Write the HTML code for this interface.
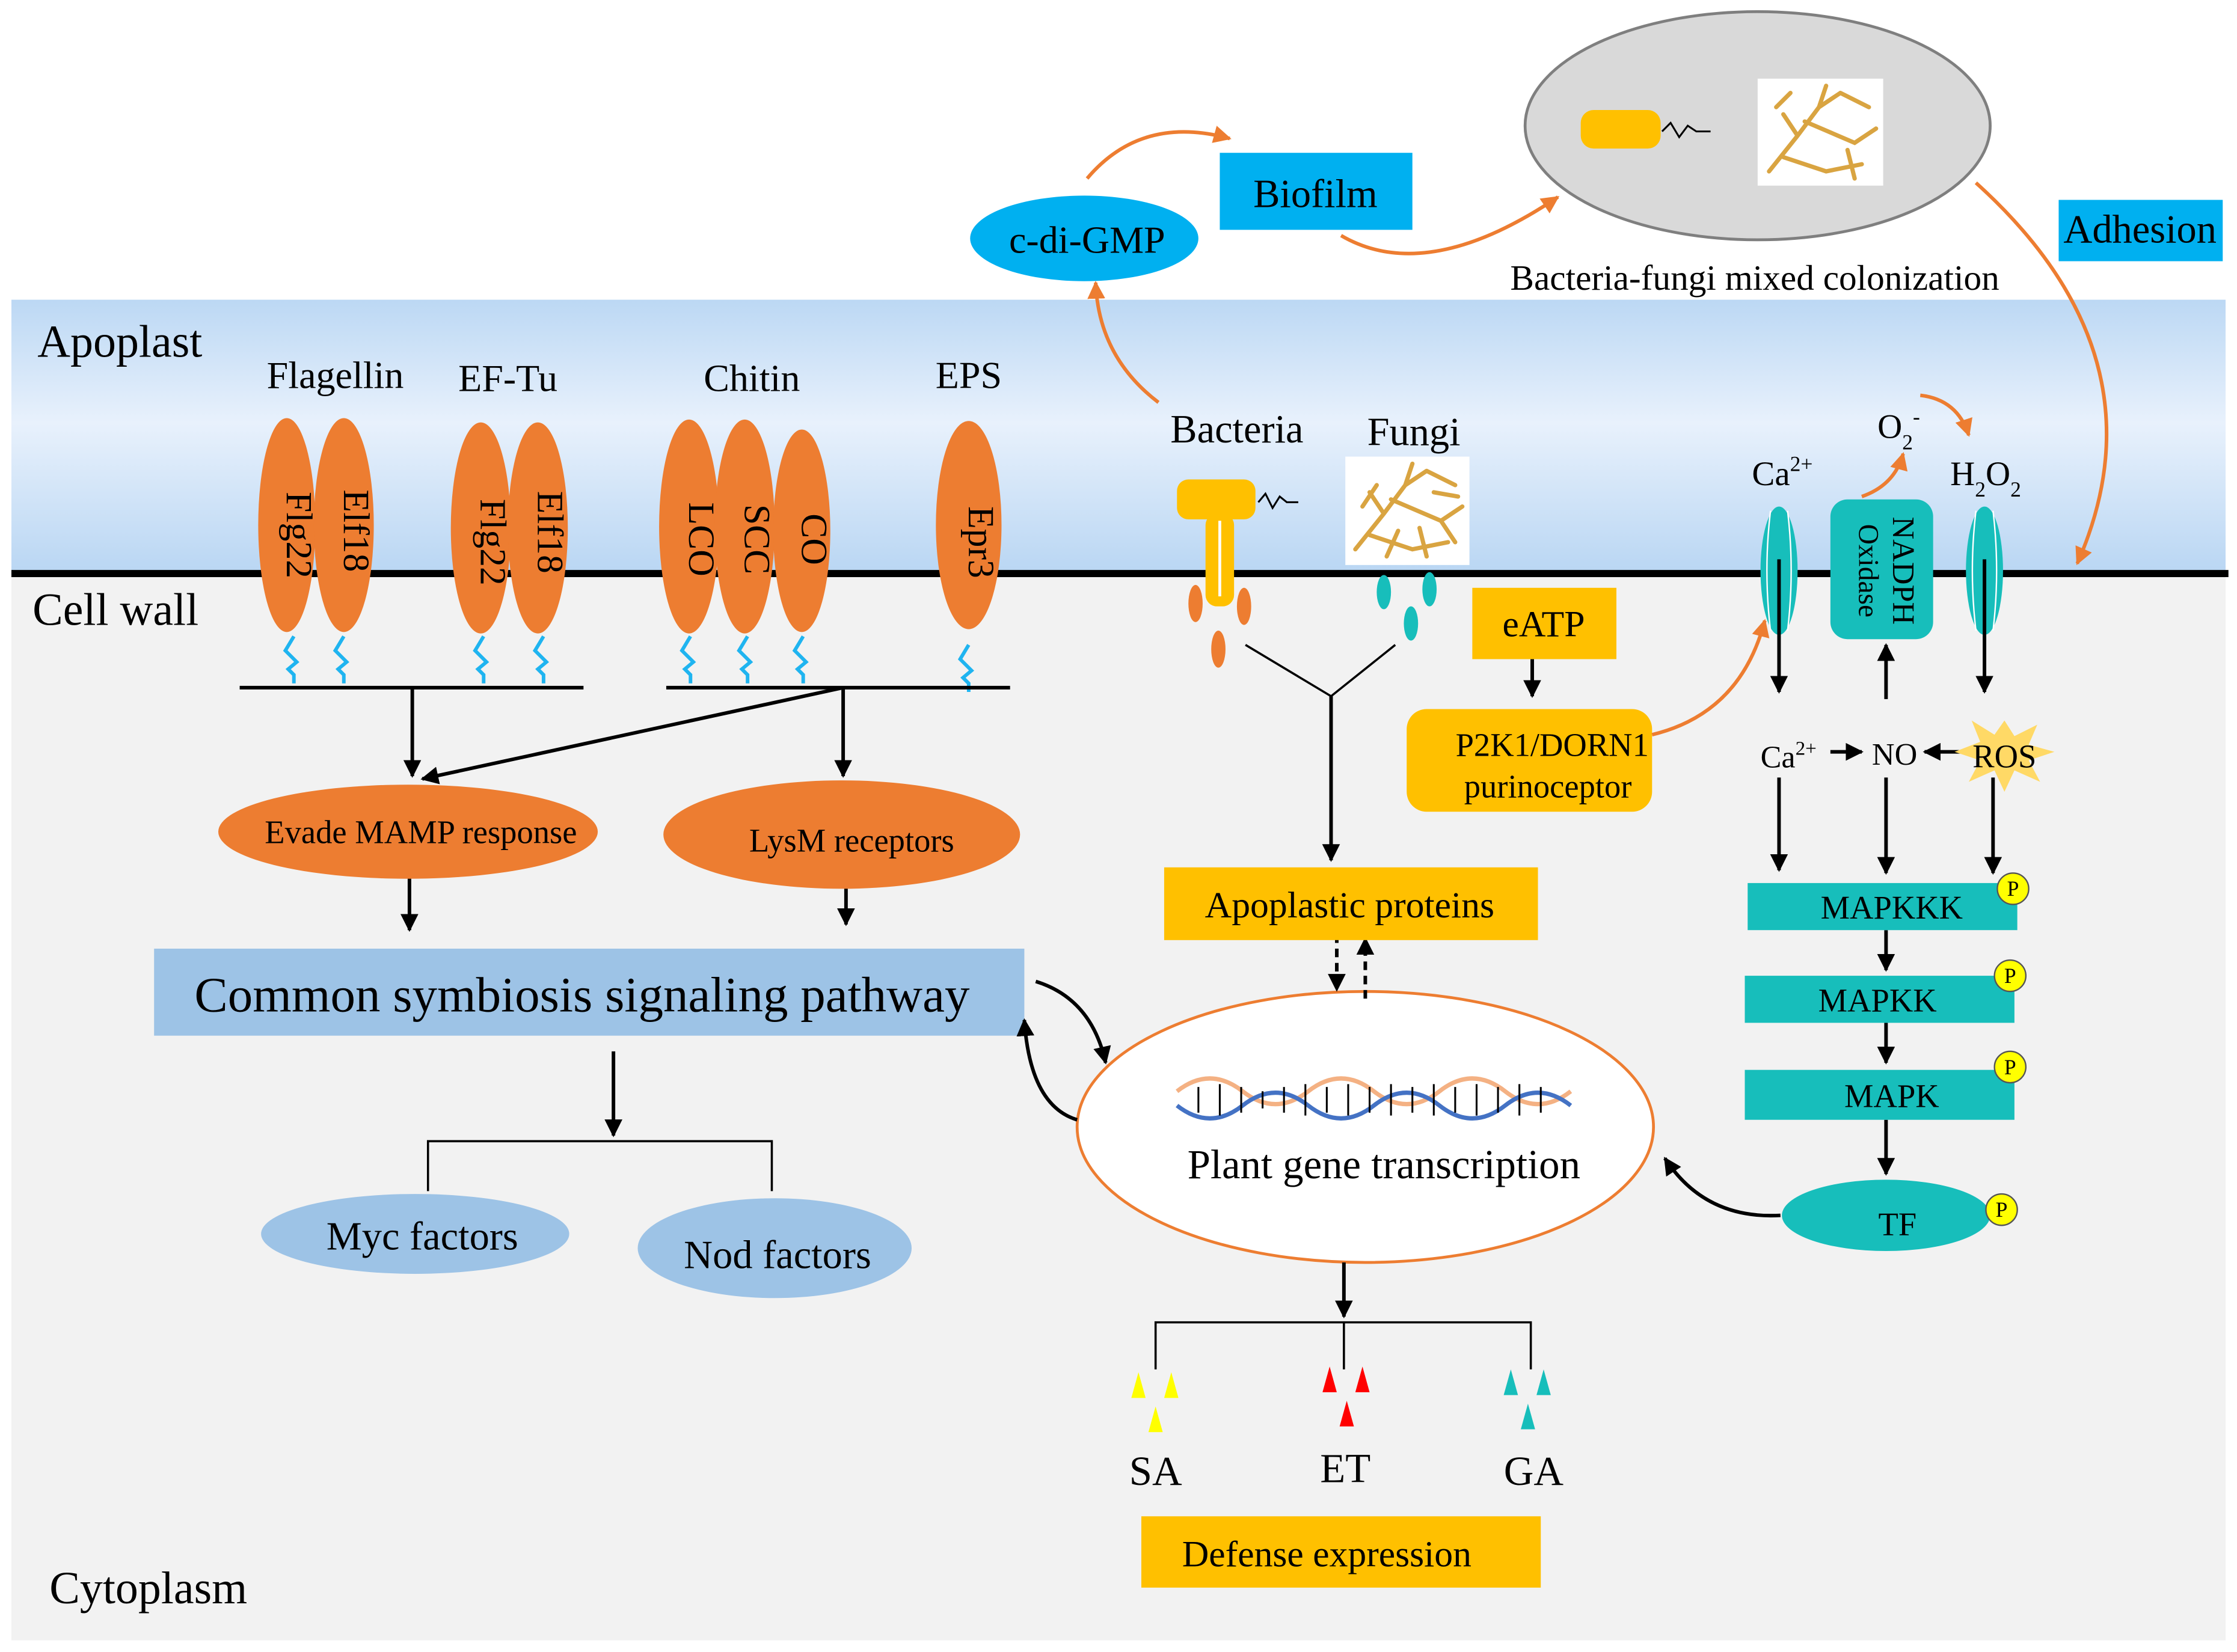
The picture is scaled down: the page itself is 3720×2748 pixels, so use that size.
<!DOCTYPE html>
<html><head><meta charset="utf-8"><style>html,body{margin:0;padding:0;background:#fff}svg{display:block}svg text{font-family:"Liberation Serif",serif !important}</style></head><body>
<svg width="3720" height="2748" viewBox="0 0 1568 1158" xmlns="http://www.w3.org/2000/svg" font-family="Liberation Serif, serif">
<defs>
<linearGradient id="ap" x1="0" y1="0" x2="0" y2="1"><stop offset="0" stop-color="#bcd8f4"/><stop offset="0.45" stop-color="#e8f1fc"/><stop offset="1" stop-color="#b9d6f3"/></linearGradient>
<marker id="a" viewBox="0 0 10 10" refX="9" refY="5" markerWidth="5" markerHeight="5" orient="auto-start-reverse"><path d="M0,0L10,5L0,10z" fill="#000"/></marker>
<marker id="o" viewBox="0 0 10 10" refX="9" refY="5" markerWidth="5" markerHeight="5" orient="auto-start-reverse"><path d="M0,0L10,5L0,10z" fill="#ed7d31"/></marker>
</defs>
<rect x="8" y="210" width="1552" height="192" fill="url(#ap)"/>
<rect x="8" y="402" width="1552" height="748" fill="#f2f2f2"/>
<line x1="8" y1="402" x2="1562" y2="402" stroke="#000" stroke-width="5"/>
<text x="84" y="250" font-size="32" text-anchor="middle">Apoplast</text>
<text x="81" y="438" font-size="32" text-anchor="middle">Cell wall</text>
<text x="104" y="1124" font-size="32" text-anchor="middle">Cytoplasm</text>
<g font-size="27" text-anchor="middle">
<text x="235" y="272">Flagellin</text><text x="356" y="274">EF-Tu</text><text x="527" y="274">Chitin</text><text x="679" y="272">EPS</text>
</g>
<g fill="#ed7d31">
<ellipse cx="201" cy="368" rx="20" ry="75"/><ellipse cx="241" cy="368" rx="21" ry="75"/>
<ellipse cx="337" cy="370" rx="21" ry="74"/><ellipse cx="377" cy="370" rx="21" ry="74"/>
<ellipse cx="483" cy="369" rx="21" ry="75"/><ellipse cx="522" cy="369" rx="21" ry="75"/><ellipse cx="562" cy="372" rx="20" ry="71"/>
<ellipse cx="679" cy="368" rx="23" ry="73"/>
</g>
<g font-size="26" text-anchor="middle">
<text transform="translate(201,375) rotate(90)">Flg22</text><text transform="translate(241,372) rotate(90)">Elf18</text>
<text transform="translate(337,380) rotate(90)">Flg22</text><text transform="translate(377,373) rotate(90)">Elf18</text>
<text transform="translate(483,378) rotate(90)">LCO</text><text transform="translate(522,378) rotate(90)">SCC</text><text transform="translate(562,378) rotate(90)">CO</text>
<text transform="translate(679,380) rotate(90)">Epr3</text>
</g>
<g stroke="#1fb4f0" stroke-width="2.5" fill="none">
<path id="sq" d="M206,446 l-6,10 l8,8 l-6,5 l4,4 v6"/>
<use href="#sq" x="35"/><use href="#sq" x="133"/><use href="#sq" x="175"/><use href="#sq" x="278"/><use href="#sq" x="318"/><use href="#sq" x="357"/><use href="#sq" x="473" y="6"/>
</g>
<g stroke="#000" stroke-width="2.5" fill="none">
<line x1="168" y1="482" x2="409" y2="482"/><line x1="467" y1="482" x2="708" y2="482"/>
<line x1="289" y1="482" x2="289" y2="544" marker-end="url(#a)"/>
<line x1="591" y1="482" x2="296" y2="546" marker-end="url(#a)"/>
<line x1="591" y1="482" x2="591" y2="544" marker-end="url(#a)"/>
<line x1="287" y1="612" x2="287" y2="652" marker-end="url(#a)"/>
<line x1="593" y1="612" x2="593" y2="648" marker-end="url(#a)"/>
<line x1="430" y1="737" x2="430" y2="796" marker-end="url(#a)"/>
<path d="M300,835 V800 H541 V835" stroke-width="1.5"/>
</g>
<ellipse cx="286" cy="583" rx="133" ry="33" fill="#ed7d31"/>
<ellipse cx="590" cy="585" rx="125" ry="38" fill="#ed7d31"/>
<text x="295" y="591" font-size="23" text-anchor="middle">Evade MAMP response</text>
<text x="597" y="597" font-size="23" text-anchor="middle">LysM receptors</text>
<rect x="108" y="665" width="610" height="61" fill="#9dc3e6"/>
<text x="408" y="709" font-size="35" text-anchor="middle">Common symbiosis signaling pathway</text>
<ellipse cx="291" cy="865" rx="108" ry="28" fill="#9dc3e6"/>
<ellipse cx="543" cy="875" rx="96" ry="35" fill="#9dc3e6"/>
<text x="296" y="876" font-size="28" text-anchor="middle">Myc factors</text>
<text x="545" y="889" font-size="28" text-anchor="middle">Nod factors</text>
<ellipse cx="957" cy="790" rx="202" ry="95" fill="#fff" stroke="#ed7d31" stroke-width="2"/>
<g fill="none" stroke-width="3">
<path d="M825,765 q23,-18 46,0 t46,0 t46,0 t46,0 t46,0 t46,0" stroke="#f4b183"/>
<path d="M825,775 q23,18 46,0 t46,0 t46,0 t46,0 t46,0 t46,0" stroke="#4472c4"/>
</g>
<g stroke="#000" stroke-width="1.3">
<path d="M840,762v18M855,760v22M870,762v18M885,765v12M900,762v18M915,760v22M930,762v18M945,760v22M960,762v18M975,760v22M990,762v18M1005,760v22M1020,762v18M1035,760v22M1050,762v18M1065,760v22M1080,762v18"/>
</g>
<text x="970" y="826" font-size="29" text-anchor="middle">Plant gene transcription</text>
<g stroke="#000" stroke-width="2.5" fill="none">
<path d="M726,688 Q765,700 775,745" marker-end="url(#a)"/>
<path d="M755,785 Q722,775 718,715" marker-end="url(#a)"/>
<line x1="937" y1="655" x2="937" y2="694" stroke-dasharray="6,4" marker-end="url(#a)"/>
<line x1="957" y1="700" x2="957" y2="658" stroke-dasharray="6,4" marker-end="url(#a)"/>
<path d="M873,452 L933,488 L978,452" stroke-width="1.5"/>
<line x1="933" y1="488" x2="933" y2="603" marker-end="url(#a)"/>
<line x1="1074" y1="462" x2="1074" y2="488" marker-end="url(#a)"/>
<path d="M1248,852 Q1195,855 1167,812" marker-end="url(#a)"/>
<line x1="942" y1="885" x2="942" y2="923" marker-end="url(#a)"/>
<path d="M810,960 V927 H1073 V960 M942,927 V960" stroke-width="1.5"/>
</g>
<rect x="816" y="608" width="262" height="51" fill="#ffc000"/>
<text x="946" y="643" font-size="26" text-anchor="middle">Apoplastic proteins</text>
<text x="867" y="310" font-size="28" text-anchor="middle">Bacteria</text>
<text x="991" y="312" font-size="28" text-anchor="middle">Fungi</text>
<rect x="825" y="336" width="55" height="28" rx="8" fill="#ffc000"/>
<rect x="845" y="360" width="20" height="65" rx="8" fill="#ffc000"/>
<line x1="855" y1="365" x2="855" y2="418" stroke="#fff" stroke-width="2"/>
<path d="M882,352 l5,-6 l5,10 l5,-8 l5,4 h8" fill="none" stroke="#000" stroke-width="1.3"/>
<g fill="#ed7d31"><ellipse cx="838" cy="423" rx="5" ry="13"/><ellipse cx="872" cy="425" rx="5" ry="13"/><ellipse cx="854" cy="455" rx="5" ry="13"/></g>
<rect x="943" y="320" width="87" height="76" fill="#fff"/>
<g stroke="#d9a441" stroke-width="3" fill="none" stroke-linecap="round">
<path d="M950,385 L970,360 L985,340 L1000,330 M970,360 L960,345 M985,340 L990,325 M975,350 L1010,365 L1025,355 M1000,330 L1020,340 M960,375 L990,385 L1015,380 M995,370 L1000,390 M1010,365 L1020,380 M955,355 L965,340 M1005,345 L1022,348 M980,372 L972,390"/>
</g>
<g fill="#17bebb"><ellipse cx="970" cy="415" rx="5" ry="12"/><ellipse cx="1002" cy="413" rx="5" ry="12"/><ellipse cx="989" cy="437" rx="5" ry="12"/></g>
<rect x="1032" y="412" width="101" height="50" fill="#ffc000"/>
<text x="1082" y="446" font-size="26" text-anchor="middle">eATP</text>
<rect x="986" y="497" width="172" height="72" rx="14" fill="#ffc000"/>
<text x="1088" y="530" font-size="23" text-anchor="middle">P2K1/DORN1</text>
<text x="1085" y="559" font-size="23" text-anchor="middle">purinoceptor</text>
<path d="M1158,515 Q1220,500 1237,435" fill="none" stroke="#ed7d31" stroke-width="2.5" marker-end="url(#o)"/>
<ellipse cx="1247" cy="400" rx="13" ry="45" fill="#17bebb"/>
<ellipse cx="1391" cy="400" rx="13" ry="45" fill="#17bebb"/>
<path d="M1241,358 Q1236,400 1241,442 M1253,358 Q1258,400 1253,442 M1385,358 Q1380,400 1385,442 M1397,358 Q1402,400 1397,442" stroke="#fff" stroke-width="1" fill="none"/>
<rect x="1283" y="350" width="72" height="98" rx="12" fill="#17bebb"/>
<text transform="translate(1327,400) rotate(90)" font-size="22" text-anchor="middle">NADPH</text>
<text transform="translate(1303,400) rotate(90)" font-size="20" text-anchor="middle">Oxidase</text>
<text x="1228" y="340" font-size="24">Ca<tspan font-size="15" dy="-10">2+</tspan></text>
<text x="1316" y="307" font-size="24">O<tspan font-size="15" dy="8">2</tspan><tspan font-size="15" dy="-18">-</tspan></text>
<text x="1367" y="340" font-size="24">H<tspan font-size="15" dy="8">2</tspan><tspan dy="-8">O</tspan><tspan font-size="15" dy="8">2</tspan></text>
<g fill="none" stroke="#ed7d31" stroke-width="2.5">
<path d="M1305,348 Q1328,340 1334,318" marker-end="url(#o)"/>
<path d="M1346,277 Q1372,280 1380,305" marker-end="url(#o)"/>
</g>
<g stroke="#000" stroke-width="2.5" fill="none">
<line x1="1247" y1="392" x2="1247" y2="485" marker-end="url(#a)"/>
<line x1="1322" y1="490" x2="1322" y2="452" marker-end="url(#a)"/>
<line x1="1391" y1="392" x2="1391" y2="485" marker-end="url(#a)"/>
<line x1="1283" y1="527" x2="1305" y2="527" marker-end="url(#a)"/>
<line x1="1375" y1="527" x2="1349" y2="527" marker-end="url(#a)"/>
<line x1="1247" y1="545" x2="1247" y2="610" marker-end="url(#a)"/>
<line x1="1322" y1="545" x2="1322" y2="612" marker-end="url(#a)"/>
<line x1="1397" y1="545" x2="1397" y2="612" marker-end="url(#a)"/>
<line x1="1322" y1="652" x2="1322" y2="680" marker-end="url(#a)"/>
<line x1="1322" y1="717" x2="1322" y2="745" marker-end="url(#a)"/>
<line x1="1322" y1="785" x2="1322" y2="823" marker-end="url(#a)"/>
</g>
<polygon points="1405,505 1412,516 1428,508 1422,522 1440,527 1422,533 1430,548 1412,540 1405,555 1398,540 1380,548 1388,533 1370,527 1388,520 1382,505 1398,515" fill="#ffd966"/>
<text x="1234" y="538" font-size="22">Ca<tspan font-size="14" dy="-9">2+</tspan></text>
<text x="1328" y="536" font-size="22" text-anchor="middle">NO</text>
<text x="1405" y="538" font-size="23" text-anchor="middle">ROS</text>
<g fill="#17bebb"><rect x="1225" y="619" width="189" height="33"/><rect x="1223" y="684" width="189" height="33"/><rect x="1223" y="750" width="189" height="35"/><ellipse cx="1322" cy="852" rx="73" ry="25"/></g>
<g font-size="23" text-anchor="middle"><text x="1326" y="644">MAPKKK</text><text x="1316" y="709">MAPKK</text><text x="1326" y="776">MAPK</text><text x="1330" y="866">TF</text></g>
<g fill="#ffff00" stroke="#555" stroke-width="1"><circle cx="1411" cy="623" r="11"/><circle cx="1409" cy="684" r="11"/><circle cx="1409" cy="748" r="11"/><circle cx="1403" cy="848" r="11"/></g>
<g font-size="15" text-anchor="middle"><text x="1411" y="628">P</text><text x="1409" y="689">P</text><text x="1409" y="753">P</text><text x="1403" y="853">P</text></g>
<g fill="#ffff00"><polygon points="798,962 803,980 793,980"/><polygon points="821,962 826,980 816,980"/><polygon points="810,986 815,1004 805,1004"/></g>
<g fill="#ff0000"><polygon points="932,958 937,976 927,976"/><polygon points="955,958 960,976 950,976"/><polygon points="944,982 949,1000 939,1000"/></g>
<g fill="#17bebb"><polygon points="1059,960 1064,978 1054,978"/><polygon points="1082,960 1087,978 1077,978"/><polygon points="1071,984 1076,1002 1066,1002"/></g>
<g font-size="29" text-anchor="middle"><text x="810" y="1041">SA</text><text x="943" y="1039">ET</text><text x="1075" y="1041">GA</text></g>
<rect x="800" y="1063" width="280" height="50" fill="#ffc000"/>
<text x="930" y="1098" font-size="26" text-anchor="middle">Defense expression</text>
<ellipse cx="760" cy="167" rx="80" ry="30" fill="#00b0f0"/>
<text x="762" y="177" font-size="27" text-anchor="middle">c-di-GMP</text>
<rect x="855" y="107" width="135" height="54" fill="#00b0f0"/>
<text x="922" y="145" font-size="28" text-anchor="middle">Biofilm</text>
<ellipse cx="1232" cy="88" rx="163" ry="80" fill="#d9d9d9" stroke="#7f7f7f" stroke-width="2"/>
<rect x="1108" y="77" width="56" height="27" rx="9" fill="#ffc000"/>
<path d="M1165,92 l6,-6 l6,10 l6,-8 l6,4 h10" fill="none" stroke="#000" stroke-width="1.3"/>
<rect x="1232" y="55" width="88" height="75" fill="#fff"/>
<g stroke="#d9a441" stroke-width="3" fill="none" stroke-linecap="round"><path d="M1240,120 L1260,95 L1275,75 L1290,65 M1260,95 L1250,80 M1275,75 L1280,60 M1265,85 L1300,100 L1315,90 M1290,65 L1310,75 M1250,110 L1280,120 L1305,115 M1245,75 L1255,65 M1295,105 L1300,125"/></g>
<text x="1230" y="203" font-size="25" text-anchor="middle">Bacteria-fungi mixed colonization</text>
<rect x="1443" y="140" width="115" height="43" fill="#00b0f0"/>
<text x="1500" y="170" font-size="28" text-anchor="middle">Adhesion</text>
<g fill="none" stroke="#ed7d31" stroke-width="2.5">
<path d="M762,125 Q800,80 862,97" marker-end="url(#o)"/>
<path d="M940,165 Q1000,200 1092,138" marker-end="url(#o)"/>
<path d="M1385,128 Q1520,250 1456,395" marker-end="url(#o)"/>
<path d="M812,282 Q770,250 768,198" marker-end="url(#o)"/>
</g>
</svg>
</body></html>
